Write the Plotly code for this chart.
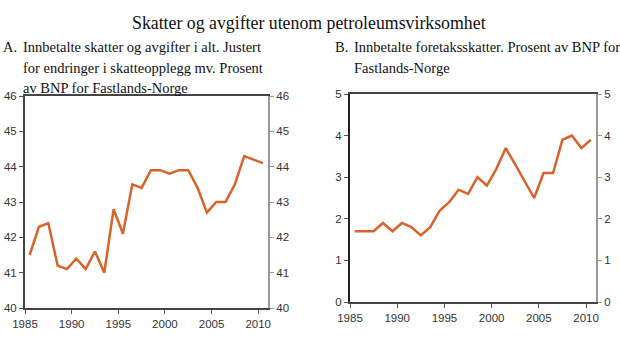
import plotly.graph_objects as go

years = list(range(1985, 2011))
a_values = [41.5, 42.3, 42.4, 41.2, 41.1, 41.4, 41.1, 41.6, 41.0, 42.8, 42.1, 43.5, 43.4,
            43.9, 43.9, 43.8, 43.9, 43.9, 43.4, 42.7, 43.0, 43.0, 43.5, 44.3, 44.2, 44.1]
b_values = [1.7, 1.7, 1.7, 1.9, 1.7, 1.9, 1.8, 1.6, 1.8, 2.2, 2.4, 2.7, 2.6, 3.0, 2.8,
            3.2, 3.7, 3.3, 2.9, 2.5, 3.1, 3.1, 3.9, 4.0, 3.7, 3.9]
x_ticks = [1985, 1990, 1995, 2000, 2005, 2010]
a_ticks = [40, 41, 42, 43, 44, 45, 46]
b_ticks = [0, 1, 2, 3, 4, 5]

xpos = [y + 0.5 for y in years]
W, H = 620, 354
color = "#D9622B"
tickfont = dict(family="Liberation Sans, Arial, sans-serif", size=11.5, color="#333333")
serif = "Liberation Serif, Times New Roman, serif"

fig = go.Figure()
fig.add_trace(go.Scatter(x=xpos, y=a_values, mode="lines", line=dict(color=color, width=2.5),
                         xaxis="x", yaxis="y", showlegend=False))
fig.add_trace(go.Scatter(x=xpos, y=b_values, mode="lines", line=dict(color=color, width=2.5),
                         xaxis="x2", yaxis="y2", showlegend=False))
fig.add_trace(go.Scatter(x=[None], y=[None], xaxis="x", yaxis="y3", showlegend=False))
fig.add_trace(go.Scatter(x=[None], y=[None], xaxis="x2", yaxis="y4", showlegend=False))

def xd(a, b):
    return [a / W, b / W]

def yd(top, bottom):
    return [1 - bottom / H, 1 - top / H]

xcommon = dict(range=[1985, 2011.05], tickvals=x_ticks, ticks="outside", ticklen=4,
               tickcolor="#555555", showline=True, linecolor="#444444", linewidth=2,
               mirror=True, showgrid=False, zeroline=False, tickfont=tickfont,
               automargin=False)

def yax(domain, anchor, rng, ticks, lc, tc, side="left", overlaying=None):
    d = dict(anchor=anchor, range=rng, tickvals=ticks, ticks="outside", ticklen=4,
             tickcolor=tc, showline=True, linecolor=lc, linewidth=2, showgrid=False,
             zeroline=False, tickfont=tickfont, side=side, automargin=False)
    if overlaying:
        d["overlaying"] = overlaying
    else:
        d["domain"] = domain
    return d

fig.update_layout(
    template="none",
    width=W, height=H, margin=dict(l=0, r=0, t=0, b=0, autoexpand=False),
    paper_bgcolor="white", plot_bgcolor="white", showlegend=False,
    xaxis=dict(domain=xd(25, 268), anchor="y", **xcommon),
    xaxis2=dict(domain=xd(350, 596), anchor="y2", **xcommon),
    yaxis=yax(yd(96, 308), "x", [40, 46], a_ticks, "#444444", "#555555"),
    yaxis3=yax(None, "x", [40, 46], a_ticks, "#999999", "#999999", "right", "y"),
    yaxis2=yax(yd(94, 302), "x2", [0, 5], b_ticks, "#222222", "#555555"),
    yaxis4=yax(None, "x2", [0, 5], b_ticks, "#999999", "#999999", "right", "y2"),
)

def txt(s, x, y, size, anchor="left"):
    fig.add_annotation(text=s, x=x / W, y=1 - y / H, xref="paper", yref="paper",
                       xanchor=anchor, yanchor="middle", showarrow=False, borderpad=0,
                       font=dict(family=serif, size=size, color="#111111"))

txt("Skatter og avgifter utenom petroleumsvirksomhet", 309, 23, 17.8, "center")
txt("A.", 2, 47, 14.5)
txt("Innbetalte skatter og avgifter i alt. Justert", 22, 47, 14.5)
txt("for endringer i skatteopplegg mv. Prosent", 22, 68, 14.5)
txt("av BNP for Fastlands-Norge", 22, 88, 14.5)
txt("B.", 334, 47, 14.5)
txt("Innbetalte foretaksskatter. Prosent av BNP for", 353, 47, 14.5)
txt("Fastlands-Norge", 353, 68, 14.5)

fig.write_html("out.html")
